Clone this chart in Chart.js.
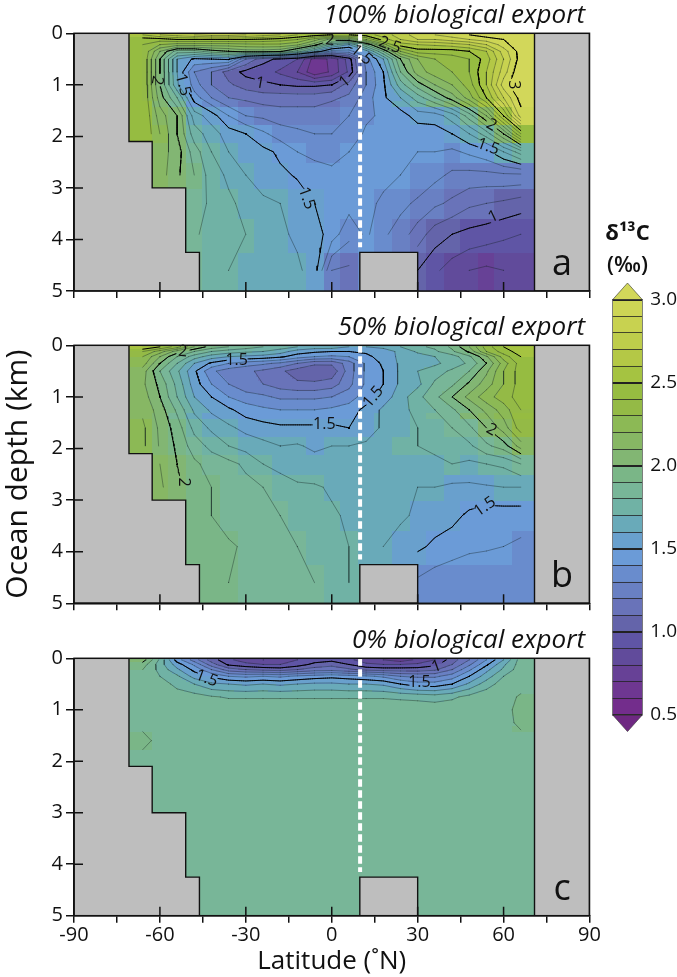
<!DOCTYPE html>
<html>
<head>
<meta charset="utf-8">
<title>Ocean d13C sections</title>
<script src="https://cdn.jsdelivr.net/npm/chart.js@4"></script>
<style>
  html, body { margin: 0; padding: 0; background: #fff; }
  body { position: relative; width: 677px; height: 977px; overflow: hidden; }
  canvas { position: absolute; display: block; }
</style>
</head>
<body>
<canvas id="panelA" width="677" height="310" style="left:0;top:0"></canvas>
<canvas id="panelB" width="677" height="315" style="left:0;top:310px"></canvas>
<canvas id="panelC" width="677" height="352" style="left:0;top:625px"></canvas>
<canvas id="colorbar" width="87" height="560" style="left:590px;top:200px"></canvas>
<script>
const N = null;
const fontFamily = "'Open Sans', sans-serif";

// Grid of the section: model cell centres
const lats = [-66, -60, -54, -48, -42, -36, -30, -24, -18, -12, -6, 0, 6, 12, 18, 24, 30, 36, 42, 48, 54, 60, 66];
const depths = [0.03, 0.12, 0.22, 0.35, 0.5, 0.75, 1, 1.25, 1.6, 1.95, 2.3, 2.75, 3.3, 3.9, 4.6];

// d13C, one row per depth
const gridA = [
  [2.6, 2.7, 2.75, 2.8, 2.85, 2.85, 2.8, 2.75, 2.7, 2.6, 2.55, 2.5, 2.5, 2.55, 2.65, 2.75, 2.85, 2.9, 2.95, 3.0, 3.05, 3.1, 3.1],
  [2.45, 2.45, 2.5, 2.5, 2.5, 2.5, 2.5, 2.48, 2.45, 2.4, 2.25, 2.05, 2.1, 2.3, 2.55, 2.7, 2.8, 2.8, 2.85, 2.9, 2.95, 3.0, 3.1],
  [2.4, 2.3, 2.25, 2.25, 2.25, 2.25, 2.27, 2.28, 2.28, 2.22, 2.05, 1.75, 1.6, 1.9, 2.25, 2.55, 2.6, 2.62, 2.65, 2.7, 2.8, 2.95, 3.1],
  [2.4, 2.1, 1.85, 1.85, 1.95, 2.0, 2.05, 2.05, 2.02, 1.85, 1.6, 1.35, 1.35, 1.55, 1.9, 2.3, 2.45, 2.45, 2.45, 2.5, 2.6, 2.85, 3.05],
  [2.4, 2.0, 1.6, 1.48, 1.5, 1.52, 1.2, 1.03, 0.98, 0.9, 0.65, 0.72, 0.95, 1.35, 1.6, 2.0, 2.2, 2.3, 2.35, 2.4, 2.55, 2.8, 3.05],
  [2.4, 2.0, 1.6, 1.3, 1.2, 1.05, 0.97, 0.95, 0.88, 0.8, 0.62, 0.72, 0.92, 1.3, 1.5, 1.9, 2.15, 2.25, 2.3, 2.4, 2.6, 2.85, 3.1],
  [2.4, 2.0, 1.62, 1.35, 1.2, 1.12, 1.05, 1.02, 1.0, 0.98, 0.98, 1.0, 1.15, 1.3, 1.48, 1.75, 1.95, 2.1, 2.2, 2.35, 2.6, 2.95, 3.1],
  [2.4, 2.05, 1.8, 1.45, 1.3, 1.2, 1.18, 1.15, 1.15, 1.15, 1.15, 1.18, 1.22, 1.35, 1.48, 1.6, 1.75, 1.9, 2.05, 2.25, 2.5, 2.8, 3.05],
  [2.4, 2.15, 2.0, 1.65, 1.55, 1.4, 1.3, 1.28, 1.25, 1.25, 1.25, 1.28, 1.3, 1.38, 1.42, 1.45, 1.55, 1.55, 1.65, 1.85, 2.1, 2.5, 2.95],
  [2.4, 2.2, 2.0, 1.75, 1.65, 1.55, 1.5, 1.42, 1.35, 1.32, 1.3, 1.3, 1.33, 1.42, 1.42, 1.42, 1.43, 1.45, 1.5, 1.6, 1.75, 2.0, 2.4],
  [N, 2.15, 2.05, 1.85, 1.7, 1.6, 1.55, 1.53, 1.48, 1.4, 1.37, 1.37, 1.4, 1.43, 1.43, 1.42, 1.4, 1.4, 1.38, 1.42, 1.47, 1.6, 1.75],
  [N, 2.15, 2.02, 1.9, 1.75, 1.68, 1.6, 1.55, 1.52, 1.49, 1.45, 1.42, 1.42, 1.44, 1.43, 1.4, 1.38, 1.33, 1.28, 1.27, 1.27, 1.28, 1.28],
  [N, N, N, 1.85, 1.78, 1.72, 1.67, 1.62, 1.6, 1.55, 1.5, 1.45, 1.44, 1.43, 1.38, 1.33, 1.28, 1.22, 1.18, 1.12, 1.1, 1.08, 1.05],
  [N, N, N, 1.82, 1.75, 1.72, 1.7, 1.65, 1.62, 1.58, 1.55, 1.45, 1.33, 1.42, 1.32, 1.25, 1.15, 1.05, 1.0, 0.97, 0.95, 0.92, 0.9],
  [N, N, N, N, 1.72, 1.7, 1.68, 1.66, 1.64, 1.62, 1.55, 1.2, 1.18, N, N, N, 1.0, 0.92, 0.85, 0.8, 0.78, 0.8, 0.82]
];
const gridB = [
  [2.6, 2.5, 2.35, 2.1, 1.95, 1.9, 1.85, 1.8, 1.75, 1.7, 1.65, 1.65, 1.6, 1.6, 1.62, 1.7, 1.78, 1.82, 1.92, 2.1, 2.35, 2.5, 2.55],
  [2.4, 2.25, 2.05, 1.9, 1.8, 1.75, 1.72, 1.7, 1.65, 1.55, 1.52, 1.5, 1.5, 1.52, 1.56, 1.62, 1.72, 1.78, 1.88, 2.02, 2.3, 2.45, 2.55],
  [2.3, 2.1, 1.9, 1.75, 1.65, 1.6, 1.58, 1.56, 1.52, 1.45, 1.4, 1.38, 1.4, 1.47, 1.55, 1.62, 1.65, 1.7, 1.75, 1.88, 2.08, 2.35, 2.5],
  [2.25, 2.0, 1.8, 1.6, 1.48, 1.4, 1.35, 1.32, 1.28, 1.2, 1.12, 1.12, 1.25, 1.42, 1.52, 1.62, 1.66, 1.68, 1.74, 1.82, 2.0, 2.25, 2.45],
  [2.15, 1.9, 1.72, 1.52, 1.32, 1.25, 1.22, 1.18, 1.12, 1.05, 1.02, 1.03, 1.25, 1.42, 1.5, 1.62, 1.7, 1.75, 1.82, 1.9, 2.08, 2.3, 2.45],
  [2.12, 1.97, 1.77, 1.55, 1.4, 1.3, 1.22, 1.2, 1.15, 1.12, 1.12, 1.15, 1.27, 1.42, 1.5, 1.62, 1.67, 1.82, 1.88, 2.02, 2.15, 2.3, 2.45],
  [2.15, 2.0, 1.8, 1.6, 1.5, 1.4, 1.35, 1.32, 1.28, 1.28, 1.28, 1.3, 1.35, 1.45, 1.55, 1.65, 1.77, 1.87, 2.0, 2.13, 2.26, 2.35, 2.45],
  [2.18, 2.05, 1.88, 1.68, 1.58, 1.52, 1.45, 1.42, 1.4, 1.4, 1.4, 1.42, 1.45, 1.53, 1.62, 1.68, 1.72, 1.8, 1.88, 2.0, 2.13, 2.25, 2.4],
  [2.22, 2.08, 1.95, 1.77, 1.68, 1.62, 1.57, 1.54, 1.52, 1.52, 1.52, 1.52, 1.5, 1.54, 1.62, 1.68, 1.7, 1.72, 1.8, 1.88, 2.0, 2.15, 2.35],
  [2.22, 2.09, 1.98, 1.85, 1.77, 1.7, 1.66, 1.63, 1.6, 1.61, 1.58, 1.6, 1.6, 1.62, 1.68, 1.7, 1.7, 1.72, 1.74, 1.78, 1.88, 1.95, 2.15],
  [N, 2.1, 2.0, 1.92, 1.86, 1.83, 1.78, 1.7, 1.66, 1.63, 1.64, 1.63, 1.64, 1.66, 1.68, 1.68, 1.68, 1.68, 1.7, 1.68, 1.7, 1.72, 1.8],
  [N, 2.12, 2.02, 1.95, 1.9, 1.85, 1.83, 1.8, 1.76, 1.72, 1.71, 1.69, 1.68, 1.67, 1.65, 1.63, 1.6, 1.6, 1.58, 1.58, 1.59, 1.6, 1.6],
  [N, N, N, 1.95, 1.9, 1.87, 1.84, 1.83, 1.8, 1.76, 1.73, 1.71, 1.69, 1.68, 1.66, 1.62, 1.58, 1.55, 1.53, 1.48, 1.45, 1.45, 1.45],
  [N, N, N, 1.95, 1.92, 1.91, 1.89, 1.85, 1.83, 1.8, 1.76, 1.73, 1.7, 1.65, 1.6, 1.55, 1.52, 1.48, 1.45, 1.42, 1.41, 1.4, 1.38],
  [N, N, N, N, 1.92, 1.9, 1.88, 1.87, 1.85, 1.83, 1.8, 1.76, 1.7, N, N, N, 1.38, 1.34, 1.32, 1.32, 1.33, 1.33, 1.33]
];
const gridC = [
  [2.05, 1.78, 1.45, 1.25, 1.05, 0.92, 0.85, 0.8, 0.82, 0.9, 0.95, 0.97, 0.92, 0.85, 0.8, 0.75, 0.82, 0.9, 1.05, 1.2, 1.4, 1.6, 1.85],
  [1.95, 1.75, 1.55, 1.38, 1.15, 0.98, 0.93, 0.9, 0.9, 0.95, 1.03, 1.07, 1.0, 0.92, 0.9, 0.9, 0.92, 0.97, 1.1, 1.28, 1.48, 1.68, 1.85],
  [1.9, 1.77, 1.62, 1.47, 1.3, 1.15, 1.1, 1.07, 1.05, 1.1, 1.15, 1.16, 1.12, 1.07, 1.05, 1.05, 1.05, 1.08, 1.2, 1.38, 1.57, 1.72, 1.86],
  [1.88, 1.8, 1.72, 1.56, 1.48, 1.4, 1.38, 1.4, 1.38, 1.42, 1.45, 1.47, 1.45, 1.42, 1.38, 1.3, 1.28, 1.28, 1.35, 1.5, 1.65, 1.8, 1.87],
  [1.87, 1.85, 1.77, 1.7, 1.62, 1.6, 1.58, 1.6, 1.58, 1.6, 1.62, 1.62, 1.6, 1.6, 1.58, 1.5, 1.44, 1.44, 1.5, 1.62, 1.75, 1.85, 1.87],
  [1.87, 1.87, 1.85, 1.84, 1.81, 1.79, 1.79, 1.79, 1.79, 1.79, 1.79, 1.79, 1.79, 1.79, 1.79, 1.78, 1.77, 1.75, 1.78, 1.83, 1.87, 1.87, 1.91],
  [1.87, 1.87, 1.87, 1.87, 1.87, 1.87, 1.87, 1.87, 1.87, 1.87, 1.87, 1.87, 1.87, 1.87, 1.87, 1.87, 1.87, 1.87, 1.87, 1.87, 1.87, 1.87, 1.93],
  [1.87, 1.87, 1.87, 1.87, 1.87, 1.87, 1.87, 1.87, 1.87, 1.87, 1.87, 1.87, 1.87, 1.87, 1.87, 1.87, 1.87, 1.87, 1.87, 1.87, 1.87, 1.87, 1.92],
  [1.93, 1.87, 1.87, 1.87, 1.87, 1.87, 1.87, 1.87, 1.87, 1.87, 1.87, 1.87, 1.87, 1.87, 1.87, 1.87, 1.87, 1.87, 1.87, 1.87, 1.87, 1.87, 1.87],
  [1.87, 1.87, 1.87, 1.87, 1.87, 1.87, 1.87, 1.87, 1.87, 1.87, 1.87, 1.87, 1.87, 1.87, 1.87, 1.87, 1.87, 1.87, 1.87, 1.87, 1.87, 1.87, 1.87],
  [N, 1.87, 1.87, 1.87, 1.87, 1.87, 1.87, 1.87, 1.87, 1.87, 1.87, 1.87, 1.87, 1.87, 1.87, 1.87, 1.87, 1.87, 1.87, 1.87, 1.87, 1.87, 1.87],
  [N, 1.87, 1.87, 1.87, 1.87, 1.87, 1.87, 1.87, 1.87, 1.87, 1.87, 1.87, 1.87, 1.87, 1.87, 1.87, 1.87, 1.87, 1.87, 1.87, 1.87, 1.87, 1.87],
  [N, N, N, 1.87, 1.87, 1.87, 1.87, 1.87, 1.87, 1.87, 1.87, 1.87, 1.87, 1.87, 1.87, 1.87, 1.87, 1.87, 1.87, 1.87, 1.87, 1.87, 1.87],
  [N, N, N, 1.87, 1.87, 1.87, 1.87, 1.87, 1.87, 1.87, 1.87, 1.87, 1.87, 1.87, 1.87, 1.87, 1.87, 1.87, 1.87, 1.87, 1.87, 1.87, 1.87],
  [N, N, N, N, 1.87, 1.87, 1.87, 1.87, 1.87, 1.87, 1.87, 1.87, 1.87, N, N, N, 1.87, 1.87, 1.87, 1.87, 1.87, 1.87, 1.87]
];

// Contour labels: level, text, lat, depth, rotation in degrees
const labelsA = [
  [2, '2', -0.6, 0.13, 5], [1.5, '1.5', 10.4, 0.42, 40], [2.5, '2.5', 20.3, 0.23, 20],
  [2, '2', -61, 0.91, 100], [1.5, '1.5', -52, 1.0, 75], [1, '1', -25, 0.97, 10],
  [1, '1', 4.6, 0.94, -40], [1.5, '1.5', -8.8, 3.2, 70], [3, '3', 63.6, 1.0, 90],
  [2, '2', 55.8, 1.78, 30], [1.5, '1.5', 54.6, 2.2, 20], [1, '1', 56.4, 3.56, -25]
];
const labelsB = [
  [2, '2', -52, 0.12, 5], [1.5, '1.5', -33.2, 0.3, 0], [1.5, '1.5', -2.6, 1.53, 0],
  [2, '2', -51.6, 2.65, 90], [1.5, '1.5', 14.5, 1.0, -50], [2, '2', 55.8, 1.64, 30],
  [1.5, '1.5', 53.5, 3.13, -35]
];
const labelsC = [
  [1.5, '1.5', -43.7, 0.39, 20], [1.5, '1.5', 30.6, 0.47, 0], [1, '1', 36.6, 0.16, -20]
];

// Land outlines as [lat, depth]
const landWest = [[-90, 0], [-70.8, 0], [-70.8, 2.1], [-62.7, 2.1], [-62.7, 3], [-51, 3], [-51, 4.25], [-46.2, 4.25], [-46.2, 5], [-90, 5]];
const landRidge = [[9.8, 5], [9.8, 4.25], [30, 4.25], [30, 5]];
const landEast = [[70.8, 0], [90, 0], [90, 5], [70.8, 5]];
const dividerLat = 9.9;
const dividerDepths = [0, 4.15];

const contourLevels = [0.5, 0.6, 0.7, 0.8, 0.9, 1, 1.1, 1.2, 1.3, 1.4, 1.5, 1.6, 1.7, 1.8, 1.9, 2, 2.1, 2.2, 2.3, 2.4, 2.5, 2.6, 2.7, 2.8, 2.9, 3];
const majorLats = [-60, -30, 0, 30, 60];
const innerDepths = [1, 2, 3, 4];

// Colour bands, from 0.5 up to 3.0 in steps of 0.1
const bandFloors = [0.5, 0.6, 0.7, 0.8, 0.9, 1, 1.1, 1.2, 1.3, 1.4, 1.5, 1.6, 1.7, 1.8, 1.9, 2, 2.1, 2.2, 2.3, 2.4, 2.5, 2.6, 2.7, 2.8, 2.9];
const bandColors = [
  'rgb(115,45,140)', 'rgb(110,55,145)', 'rgb(103,65,150)', 'rgb(97,75,155)', 'rgb(95,85,165)',
  'rgb(100,100,170)', 'rgb(105,115,185)', 'rgb(105,128,195)', 'rgb(105,140,205)', 'rgb(107,155,215)',
  'rgb(105,160,205)', 'rgb(105,170,185)', 'rgb(112,178,165)', 'rgb(120,182,152)', 'rgb(122,182,135)',
  'rgb(130,182,115)', 'rgb(135,183,100)', 'rgb(140,185,85)', 'rgb(148,186,70)', 'rgb(150,188,65)',
  'rgb(165,195,65)', 'rgb(180,200,70)', 'rgb(190,205,75)', 'rgb(200,210,80)', 'rgb(205,213,85)'
];
const overColor = 'rgb(210,215,90)';
const underColor = 'rgb(110,40,130)';
const colorbarTicks = [0.5, 1, 1.5, 2, 2.5, 3];

function colorFor(v) {
  if (v < 0.5) return underColor;
  if (v >= 3) return overColor;
  return bandColors[Math.min(bandColors.length - 1, Math.floor((v - 0.5) * 10 + 1e-9))];
}

function findCell(list, v) {
  let i = 0;
  while (i < list.length - 2 && v > list[i + 1]) i++;
  return i;
}

// value under a pixel: smooth in the upper ocean, blocky cells below
function fieldAt(grid, lat, depth) {
  const i = findCell(lats, lat);
  const j = findCell(depths, depth);
  const tx = Math.max(0, Math.min(1, (lat - lats[i]) / (lats[i + 1] - lats[i])));
  const ty = Math.max(0, Math.min(1, (depth - depths[j]) / (depths[j + 1] - depths[j])));
  const a = grid[j][i], b = grid[j][i + 1], c = grid[j + 1][i + 1], d = grid[j + 1][i];
  if (depth < 1.3 && a !== N && b !== N && c !== N && d !== N) {
    return (a * (1 - tx) + b * tx) * (1 - ty) + (d * (1 - tx) + c * tx) * ty;
  }
  const near = grid[ty < 0.5 ? j : j + 1][tx < 0.5 ? i : i + 1];
  if (near !== N) return near;
  return [a, b, c, d].find(v => v !== N) ?? N;
}

// marching squares over the grid, one dataset per level with gaps between pieces
function contourPoints(grid, level, labels) {
  const pts = [];
  const lv = level + 1e-4;
  const near = labels.filter(l => l[0] === level);
  const hidden = (x, y) => near.some(l => {
    const r = l[1].length > 1 ? 11 : 7;
    return Math.hypot((x - l[2]) * 2.864, (y - l[3]) * 51.5) < r;
  });
  const addSegment = (p, q) => {
    const steps = near.length ? 8 : 1;
    for (let s = 0; s < steps; s++) {
      const x0 = p.x + (q.x - p.x) * s / steps, y0 = p.y + (q.y - p.y) * s / steps;
      const x1 = p.x + (q.x - p.x) * (s + 1) / steps, y1 = p.y + (q.y - p.y) * (s + 1) / steps;
      if (hidden((x0 + x1) / 2, (y0 + y1) / 2)) continue;
      pts.push({ x: x0, y: y0 }, { x: x1, y: y1 }, { x: NaN, y: NaN });
    }
  };
  const cross = (v0, v1, x0, y0, x1, y1) => {
    if ((v0 < lv) === (v1 < lv)) return null;
    const t = (lv - v0) / (v1 - v0);
    return { x: x0 + (x1 - x0) * t, y: y0 + (y1 - y0) * t };
  };
  for (let j = 0; j < depths.length - 1; j++) {
    for (let i = 0; i < lats.length - 1; i++) {
      const a = grid[j][i], b = grid[j][i + 1], c = grid[j + 1][i + 1], d = grid[j + 1][i];
      if (a === N || b === N || c === N || d === N) continue;
      const x0 = lats[i], x1 = lats[i + 1], y0 = depths[j], y1 = depths[j + 1];
      const top = cross(a, b, x0, y0, x1, y0);
      const right = cross(b, c, x1, y0, x1, y1);
      const bottom = cross(d, c, x0, y1, x1, y1);
      const left = cross(a, d, x0, y0, x0, y1);
      const found = [top, right, bottom, left].filter(Boolean);
      if (found.length === 2) {
        addSegment(found[0], found[1]);
      } else if (found.length === 4) {
        if (((a + b + c + d) / 4 < lv) === (a < lv)) {
          addSegment(top, right);
          addSegment(bottom, left);
        } else {
          addSegment(top, left);
          addSegment(right, bottom);
        }
      }
    }
  }
  return pts;
}

function polygon(ctx, scales, outline) {
  ctx.beginPath();
  outline.forEach((p, i) => {
    const x = scales.x.getPixelForValue(p[0]), y = scales.y.getPixelForValue(p[1]);
    if (i === 0) ctx.moveTo(x, y); else ctx.lineTo(x, y);
  });
}

const sectionPlugin = {
  id: 'section',
  beforeDatasetsDraw(chart, args, opts) {
    const { ctx, chartArea: area, scales } = chart;
    ctx.save();
    ctx.beginPath();
    ctx.rect(area.left, area.top, area.right - area.left, area.bottom - area.top);
    ctx.clip();
    for (let px = Math.floor(area.left); px < area.right; px += 2) {
      for (let py = Math.floor(area.top); py < area.bottom; py += 2) {
        const lat = scales.x.getValueForPixel(px + 1), depth = scales.y.getValueForPixel(py + 1);
        const v = fieldAt(opts.grid, lat, depth);
        if (v === N || v === undefined) continue;
        ctx.fillStyle = colorFor(v);
        ctx.fillRect(px, py, 2, 2);
      }
    }
    [landWest, landRidge, landEast].forEach(outline => {
      polygon(ctx, scales, outline);
      ctx.closePath();
      ctx.fillStyle = '#bebebe';
      ctx.fill();
      ctx.lineWidth = 1.4;
      ctx.strokeStyle = '#111';
      ctx.stroke();
    });
    ctx.restore();
  },
  afterDatasetsDraw(chart, args, opts) {
    const { ctx, chartArea: area, scales } = chart;
    ctx.save();
    ctx.strokeStyle = '#111';
    ctx.lineWidth = 1.5;
    ctx.strokeRect(area.left, area.top, area.right - area.left, area.bottom - area.top);
    // inward ticks
    ctx.beginPath();
    majorLats.forEach(lat => {
      const x = scales.x.getPixelForValue(lat);
      ctx.moveTo(x, area.bottom);
      ctx.lineTo(x, area.bottom - 9);
    });
    innerDepths.forEach(d => {
      const y = scales.y.getPixelForValue(d);
      ctx.moveTo(area.left, y);
      ctx.lineTo(area.left + 9, y);
    });
    ctx.stroke();
    ctx.fillStyle = '#111';
    // contour labels
    ctx.textAlign = 'center';
    ctx.textBaseline = 'middle';
    ctx.font = '16px ' + fontFamily;
    opts.labels.forEach(l => {
      ctx.save();
      ctx.translate(scales.x.getPixelForValue(l[2]), scales.y.getPixelForValue(l[3]));
      ctx.rotate(l[4] * Math.PI / 180);
      ctx.fillText(l[1], 0, 0);
      ctx.restore();
    });
    // heading and panel letter
    ctx.textBaseline = 'alphabetic';
    ctx.textAlign = 'right';
    ctx.font = 'italic 26px ' + fontFamily;
    ctx.fillText(opts.heading, area.right - 4.5, area.top - 10, opts.headingWidth);
    ctx.textAlign = 'center';
    ctx.font = '36px ' + fontFamily;
    ctx.fillText(opts.letter, 562, area.bottom - 16);
    ctx.restore();
  }
};

function makePanel(id, grid, labels, heading, headingWidth, letter, padTop, axisHeight, withXLabels, yTitle, xTitle) {
  const datasets = [{
    data: dividerDepths.map(d => ({ x: dividerLat, y: d })),
    showLine: true, pointRadius: 0, borderColor: '#fff', borderWidth: 4, borderDash: [7.5, 3.5]
  }];
  contourLevels.forEach(level => {
    const major = Math.abs(level * 2 - Math.round(level * 2)) < 1e-6;
    datasets.push({
      data: contourPoints(grid, level, labels),
      showLine: true,
      pointRadius: 0,
      borderColor: major ? '#000' : 'rgba(15,30,30,0.75)',
      borderWidth: major ? 1 : 0.5,
      borderCapStyle: 'round'
    });
  });
  return new Chart(document.getElementById(id), {
    type: 'scatter',
    data: { datasets },
    plugins: [sectionPlugin],
    options: {
      responsive: false,
      animation: false,
      devicePixelRatio: 1,
      events: [],
      layout: { padding: { top: padTop, right: 87.5, left: 0, bottom: 0 } },
      plugins: {
        legend: { display: false },
        tooltip: { enabled: false },
        section: { grid, labels, heading, headingWidth, letter }
      },
      scales: {
        x: {
          type: 'linear', min: -90, max: 90,
          afterFit: s => { s.height = axisHeight; },
          title: { display: !!xTitle, text: xTitle, color: '#111', padding: { top: 0, bottom: 0 }, font: { family: fontFamily, size: 26 } },
          border: { display: true, color: '#111', width: 1.5 },
          grid: { drawOnChartArea: false, drawTicks: true, tickLength: 7, color: '#111', lineWidth: 1.5 },
          ticks: {
            stepSize: 15, autoSkip: false, maxRotation: 0, padding: 1, color: '#111',
            font: { family: fontFamily, size: 20 },
            callback: v => (withXLabels && v % 30 === 0 ? String(v) : '')
          }
        },
        y: {
          type: 'linear', min: 0, max: 5, reverse: true,
          afterFit: s => { s.width = 74; },
          title: { display: !!yTitle, text: yTitle, color: '#111', padding: 0, font: { family: fontFamily, size: 30 } },
          border: { display: true, color: '#111', width: 1.5 },
          grid: { drawOnChartArea: false, drawTicks: true, tickLength: 8, color: '#111', lineWidth: 1.5 },
          ticks: { stepSize: 1, padding: 3, color: '#111', font: { family: fontFamily, size: 20 } }
        }
      }
    }
  });
}

makePanel('panelA', gridA, labelsA, '100% biological export', 263, 'a', 33.3, 19, false, '', '');
makePanel('panelB', gridB, labelsB, '50% biological export', 250, 'b', 35.3, 21.7, false, 'Ocean depth (km)', '');
makePanel('panelC', gridC, labelsC, '0% biological export', 235, 'c', 33.3, 61.3, true, '', 'Latitude (˚N)');

// Colour bar
const colorbarPlugin = {
  id: 'colorbarCaps',
  afterDraw(chart) {
    const { ctx, chartArea: area, scales } = chart;
    const mid = (area.left + area.right) / 2;
    ctx.save();
    [[3, 3.1, overColor], [0.5, 0.4, underColor]].forEach(cap => {
      const y0 = scales.y.getPixelForValue(cap[0]), y1 = scales.y.getPixelForValue(cap[1]);
      ctx.beginPath();
      ctx.moveTo(area.left, y0);
      ctx.lineTo(mid, y1);
      ctx.lineTo(area.right, y0);
      ctx.closePath();
      ctx.fillStyle = cap[2];
      ctx.fill();
      ctx.lineWidth = 0.6;
      ctx.strokeStyle = '#333';
      ctx.stroke();
    });
    const top = scales.y.getPixelForValue(3), bottom = scales.y.getPixelForValue(0.5);
    ctx.strokeRect(area.left, top, area.right - area.left, bottom - top);
    ctx.fillStyle = '#111';
    ctx.textAlign = 'center';
    ctx.font = 'bold 22px ' + fontFamily;
    ctx.fillText('δ¹³C', mid, 40);
    ctx.font = '600 22px ' + fontFamily;
    ctx.fillText('(‰)', mid, 72);
    ctx.restore();
  }
};

new Chart(document.getElementById('colorbar'), {
  type: 'bar',
  data: {
    labels: ['d13C'],
    datasets: bandFloors.map((lo, i) => ({
      data: [[lo, lo + 0.1]],
      backgroundColor: bandColors[i],
      borderWidth: 0,
      barPercentage: 1,
      categoryPercentage: 1
    }))
  },
  plugins: [colorbarPlugin],
  options: {
    responsive: false,
    animation: false,
    devicePixelRatio: 1,
    events: [],
    layout: { padding: { top: 83, bottom: 28.4, left: 22.7, right: 0 } },
    plugins: { legend: { display: false }, tooltip: { enabled: false } },
    scales: {
      x: { display: false, stacked: true },
      y: {
        type: 'linear', position: 'right', min: 0.4, max: 3.1,
        afterFit: s => { s.width = 34.7; },
        afterBuildTicks: s => { s.ticks = bandFloors.concat([3]).map(value => ({ value })); },
        border: { display: false },
        grid: {
          drawTicks: false, z: 1, color: '#222',
          lineWidth: c => (colorbarTicks.includes(Math.round(c.tick.value * 10) / 10) ? 2 : 0.8)
        },
        ticks: {
          autoSkip: false, padding: 8, color: '#111',
          font: { family: fontFamily, size: 19 },
          callback: v => (colorbarTicks.includes(Math.round(v * 10) / 10) ? v.toFixed(1) : '')
        }
      }
    }
  }
});
</script>
</body>
</html>
